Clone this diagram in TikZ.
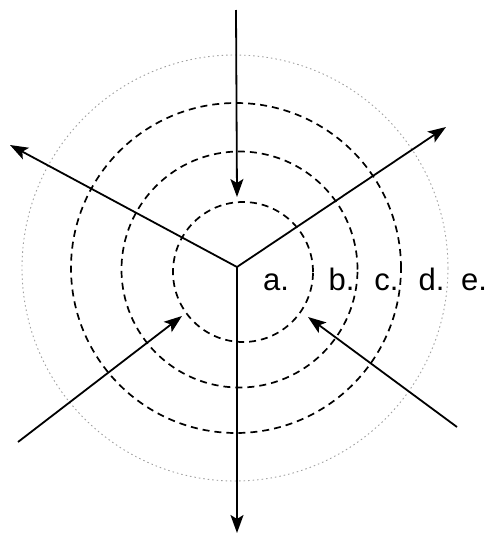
\documentclass[tikz,border=0pt]{standalone}
\usepackage{fontspec}
\setmainfont{Liberation Sans}
\usetikzlibrary{arrows.meta}
\tikzset{
  arr/.style={line width=1.8pt, -{Stealth[length=18pt,width=13pt,inset=4pt]}},
  ring/.style={line width=1.7pt, dash pattern=on 7pt off 5pt},
  outer/.style={line width=0.9pt, gray!75, dash pattern=on 1.5pt off 3pt},
  lbl/.style={anchor=base, inner sep=0pt, font=\fontsize{31}{31}\selectfont}
}
\begin{document}
\begin{tikzpicture}[x=1pt,y=-1pt]
\useasboundingbox (0,0) rectangle (491,536);
% rings
\draw[ring] (243,272) circle[radius=70pt];
\draw[ring] (239.5,269.5) circle[radius=118pt];
\draw[ring] (236,268) circle[radius=165pt];
\draw[outer] (235,268) circle[radius=213pt];
% coordinates
\coordinate (O) at (237,267);
\coordinate (T) at (236,10);
\coordinate (Ta) at (237,197);
\coordinate (B) at (237,533);
\coordinate (UL) at (10,145);
\coordinate (UR) at (446,127);
\coordinate (LL) at (18,442);
\coordinate (LLt) at (182,316);
\coordinate (LR) at (457,427);
\coordinate (LRt) at (308,317);
% arrows
\draw[arr] (T) -- (Ta);
\draw[arr] (O) -- (B);
\draw[arr] (O) -- (UL);
\draw[arr] (O) -- (UR);
\draw[arr] (LL) -- (LLt);
\draw[arr] (LR) -- (LRt);
% labels
\node[lbl] (la) at (276,290) {a.};
\node[lbl] (lb) at (341.5,290) {b.};
\node[lbl] (lc) at (386.5,290) {c.};
\node[lbl] (ld) at (431.5,290) {d.};
\node[lbl] (le) at (474,290) {e.};
\end{tikzpicture}
\end{document}
